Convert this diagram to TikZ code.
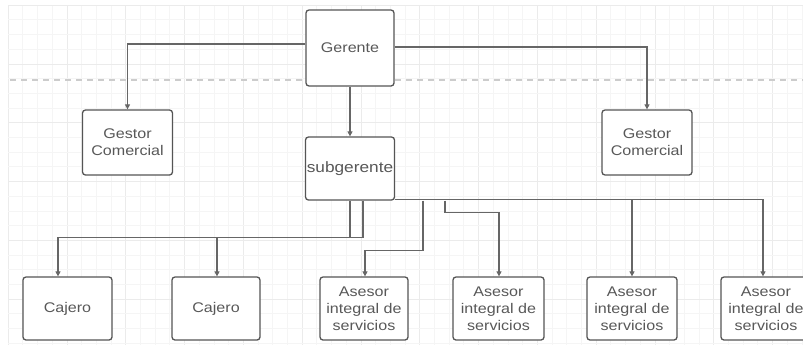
\documentclass[tikz,border=0pt]{standalone}
\usepackage{fontspec}
\setmainfont{Liberation Sans}[FakeStretch=1.15]
\usetikzlibrary{arrows.meta}
\definecolor{boxline}{HTML}{555555}
\definecolor{txt}{HTML}{585858}
\definecolor{conn}{HTML}{666666}
\begin{document}
\begin{tikzpicture}[x=1pt,y=-1pt,
  orgbox/.style={draw=boxline, line width=1.3pt, rounded corners=3pt, fill=white,
    text=txt, align=center, inner sep=0pt,
    font=\fontsize{14}{17}\selectfont},
  link/.style={draw=conn, line width=1.1pt, -{Triangle[length=5pt,width=5pt]}},
  gridminor/.style={draw=black!4, line width=0.5pt},
  gridmajor/.style={draw=black!8, line width=0.6pt}]
\useasboundingbox (0,0) rectangle (803,349);
\clip (0,0) rectangle (803,349);
\fill[white] (0,0) rectangle (803,349);
% background grid
\foreach \i in {0,...,54} {
  \pgfmathtruncatemacro{\m}{mod(\i,4)}
  \ifnum\m=0 \draw[gridmajor] ({8+14.7*\i},5) -- ({8+14.7*\i},345);
  \else \draw[gridminor] ({8+14.7*\i},5) -- ({8+14.7*\i},345); \fi
}
\foreach \i in {0,...,23} {
  \pgfmathtruncatemacro{\m}{mod(\i,4)}
  \ifnum\m=0 \draw[gridmajor] (8,{5+14.7*\i}) -- (803,{5+14.7*\i});
  \else \draw[gridminor] (8,{5+14.7*\i}) -- (803,{5+14.7*\i}); \fi
}
\draw[black!20, line width=1.5pt, dash pattern=on 6pt off 5pt] (10,80) -- (803,80);

% nodes
\node[orgbox, minimum width=88, minimum height=76] (ger) at (350,48) {Gerente};
\node[orgbox, minimum width=89, minimum height=63, font=\fontsize{15}{17}\selectfont] (sub) at (350,168.5) {subgerente};
\node[orgbox, minimum width=90, minimum height=65] (gc1) at (127.5,142.5) {Gestor\\Comercial};
\node[orgbox, minimum width=90, minimum height=65] (gc2) at (647,142.5) {Gestor\\Comercial};
\node[orgbox, minimum width=89, minimum height=63] (caj1) at (67.5,308.5) {Cajero};
\node[orgbox, minimum width=88, minimum height=63] (caj2) at (216,308.5) {Cajero};
\node[orgbox, minimum width=88, minimum height=63] (as1) at (364,308.5) {Asesor\\integral de\\servicios};
\node[orgbox, minimum width=91, minimum height=63] (as2) at (498.5,308.5) {Asesor\\integral de\\servicios};
\node[orgbox, minimum width=90, minimum height=63] (as3) at (632,308.5) {Asesor\\integral de\\servicios};
\node[orgbox, minimum width=90, minimum height=63] (as4) at (766,308.5) {Asesor\\integral de\\servicios};

% connectors
\draw[link] ([yshift=4pt]ger.west) -| (gc1.north);
\draw[link] ([yshift=1pt]ger.east) -| (gc2.north);
\draw[link] (ger.south) -- (sub.north);
\draw[link] (sub.south) -- ++(0,37) -| ([xshift=-9.5pt]caj1.north);
\draw[link] ([xshift=13pt]sub.south) -- ++(0,37) -| ([xshift=1pt]caj2.north);
\draw[link] ([xshift=73pt]sub.south) -- ++(0,50) -| ([xshift=1pt]as1.north);
\draw[link] ([xshift=95pt]sub.south) -- ++(0,12) -| ([xshift=0.5pt]as2.north);
\draw[link] ([yshift=1pt]sub.south east) -| (as3.north);
\draw[link] ([yshift=1pt]sub.south east) -| ([xshift=-3pt]as4.north);
\end{tikzpicture}
\end{document}
